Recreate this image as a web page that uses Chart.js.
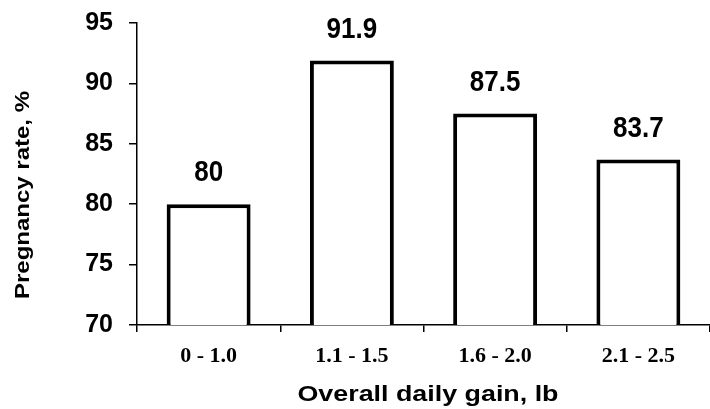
<!DOCTYPE html>
<html><head><meta charset="utf-8">
<script src="https://cdn.jsdelivr.net/npm/chart.js@4/dist/chart.umd.min.js"></script>
<style>html,body{margin:0;padding:0;background:#fff;overflow:hidden;}#wrap{width:710px;height:409px;}</style>
</head><body><div id="wrap"><canvas id="c" width="710" height="409"></canvas></div>
<script>
const categories = ["0 - 1.0", "1.1 - 1.5", "1.6 - 2.0", "2.1 - 2.5"];
const pregnancyRate = [80, 91.9, 87.5, 83.7];
const yTicks = [70, 75, 80, 85, 90, 95];
const yTitle = "Pregnancy rate, %";
const xTitle = "Overall daily gain, lb";

const SANS = 'Arial, "Liberation Sans", sans-serif';

const extras = {
  id: 'extras',
  afterDatasetsDraw(chart) {
    const ctx = chart.ctx;
    const meta = chart.getDatasetMeta(0);
    const ca = chart.chartArea;
    ctx.save();
    ctx.fillStyle = '#000';
    ctx.textAlign = 'center';
    ctx.textBaseline = 'middle';
    ctx.font = 'bold 26px ' + SANS;
    meta.data.forEach((bar, i) => {
      ctx.save();
      ctx.translate(bar.x, bar.y - 31);
      ctx.scale(1, 1.15);
      ctx.fillText(String(pregnancyRate[i]), 0, 0);
      ctx.restore();
    });
    // y-axis title
    ctx.save();
    ctx.translate(23, (ca.top + ca.bottom) / 2 + 21);
    ctx.rotate(-Math.PI / 2);
    ctx.scale(1.2, 1);
    ctx.font = 'bold 20px ' + SANS;
    ctx.fillText(yTitle, 0, 0);
    ctx.restore();
    // x-axis title
    ctx.save();
    ctx.translate(428, 395);
    ctx.scale(1.22, 1);
    ctx.font = 'bold 22px ' + SANS;
    ctx.fillText(xTitle, 0, 0);
    ctx.restore();
    ctx.restore();
  }
};

new Chart(document.getElementById('c'), {
  type: 'bar',
  data: {
    labels: categories,
    datasets: [{
      data: pregnancyRate,
      backgroundColor: '#fff',
      borderColor: '#000',
      borderWidth: 4,
      borderSkipped: false,
      categoryPercentage: 0.586,
      barPercentage: 1.0
    }]
  },
  options: {
    responsive: false,
    animation: false,
    layout: { padding: { top: 23, right: -7, bottom: 0, left: 0 } },
    plugins: { legend: { display: false }, tooltip: { enabled: false } },
    scales: {
      x: {
        grid: { display: true, offset: true, drawOnChartArea: false, drawTicks: true, tickLength: 7, color: '#000', lineWidth: 1.5 },
        border: { display: true, color: '#000', width: 1.5 },
        ticks: { color: '#000', font: { family: '"Times New Roman", "Liberation Serif", serif', size: 22, weight: 'bold' }, padding: 11, maxRotation: 0 },
        title: { display: false },
        afterFit(scale) { scale.height = 84; scale.paddingLeft = 0; scale.paddingRight = 0; }
      },
      y: {
        min: 70, max: 95,
        afterBuildTicks(scale) { scale.ticks = yTicks.map(v => ({ value: v })); },
        grid: { display: true, drawOnChartArea: false, drawTicks: true, tickLength: 8, color: '#000', lineWidth: 1.5 },
        border: { display: true, color: '#000', width: 1.5 },
        ticks: { color: '#000', font: { family: SANS, size: 25, weight: 'bold' }, padding: 16 },
        afterFit(scale) { scale.width = 137; scale.paddingTop = 0; scale.paddingBottom = 0; }
      }
    }
  },
  plugins: [extras]
});
</script>
</body></html>
